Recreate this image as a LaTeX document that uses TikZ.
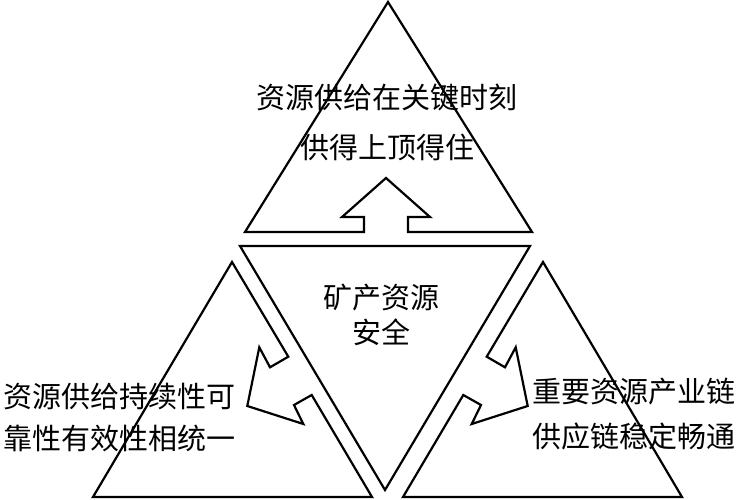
\documentclass[tikz,border=0pt]{standalone}
\usepackage{fontspec}
\newfontfamily\cjk{Noto Sans CJK SC}
\usetikzlibrary{calc}

\tikzset{
  tri/.style={line width=2.2pt,line join=miter,black},
  txt/.style={font=\cjk\fontsize{29}{44}\selectfont,align=center,inner sep=0pt}
}

\begin{document}
\begin{tikzpicture}[x=1pt,y=-1pt]
  \useasboundingbox (0,0) rectangle (739,500);
  % top triangle with its arrow
  \draw[tri] (245,232) -- (388,2) -- (532,232) -- (408,232) -- (408,217) -- (430,217)
    -- (386,178) -- (342,217) -- (364,217) -- (364,232) -- cycle;
  % centre triangle
  \draw[tri] (240,246) -- (530,246) -- (385,490) -- cycle;
  % left triangle with its arrow
  \draw[tri] (232,262) -- (288.3,356.7) -- (270,367.3) -- (259.3,347.3) -- (247.3,406)
    -- (303.3,424) -- (294,405) -- (311.7,395) -- (372,497) -- (93,497) -- cycle;
  % right triangle with its arrow
  \draw[tri] (543,262) -- (486.7,356.7) -- (505,367.3) -- (515.7,347.3) -- (527.7,406)
    -- (471.7,424) -- (481,405) -- (463.3,395) -- (403,497) -- (682,497) -- cycle;

  \node[txt,font=\cjk\fontsize{29}{50}\selectfont] (top) at (387,122) {资源供给在关键时刻\\供得上顶得住};
  \node[txt,font=\cjk\fontsize{29}{35}\selectfont] (core) at (381,315) {矿产资源\\安全};
  \node[txt,font=\cjk\fontsize{29}{42}\selectfont] (left) at (120,418) {资源供给持续性可\\靠性有效性相统一};
  \node[txt,font=\cjk\fontsize{29}{45}\selectfont] (right) at (634,414) {重要资源产业链\\供应链稳定畅通};
\end{tikzpicture}
\end{document}
